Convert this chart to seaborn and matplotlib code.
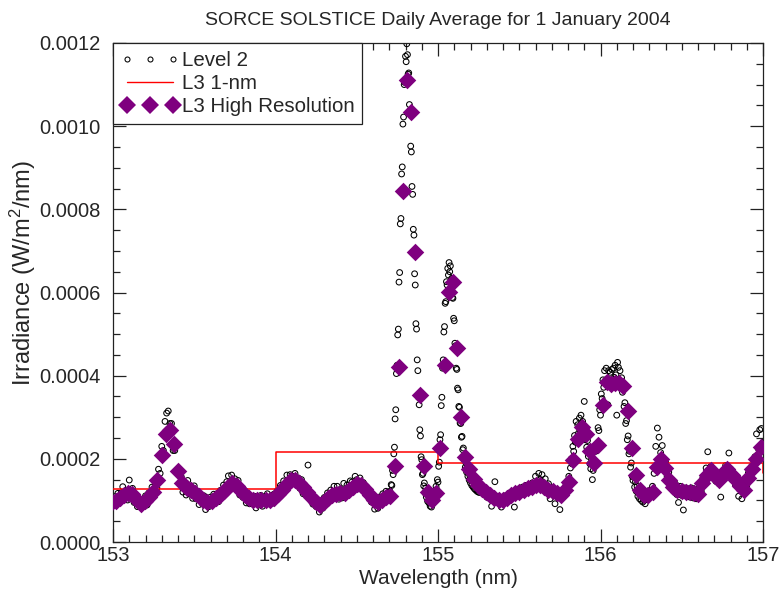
import numpy as np
import matplotlib
matplotlib.use("Agg")
import matplotlib.pyplot as plt
from matplotlib.lines import Line2D
from matplotlib.ticker import MultipleLocator, FormatStrFormatter
import seaborn as sns

# ---------------- data (irradiance in units of 1e-6 W/m^2/nm) ----------------
# Level 2 samples, split into segments with their own start / step (nm)
l2_a_start, l2_a_step = 153.00, 0.01
l2_a = [88, 109, 93, 117, 96, 118, 133, 103, 122, 101,
        149, 109, 129, 95, 110, 85, 103, 85, 102, 86,
        111, 89, 118, 106, 132, 112, 144, 130, 175, 165,
        230, 220, 290, 310, 315, 285, 285, 220, 220, 170,
        175, 140, 157, 120, 140, 113, 148, 117, 133, 105,
        135, 104, 117, 90, 114, 92, 111, 78, 102, 85,
        108, 95, 115, 96, 116, 97, 124, 112, 137, 118,
        145, 159, 143, 161, 130, 152, 126, 148, 113, 130,
        107, 124, 94, 114, 92, 108, 91, 110, 82, 105,
        92, 112, 86, 108, 94, 116, 92, 109, 93, 115,
        102, 123, 111, 136, 115, 147, 128, 161, 148, 162,
        159, 141, 165, 140, 154, 129, 150, 116, 135, 112,
        185, 104, 117, 91, 105, 85, 99, 72, 96, 81,
        107, 93, 118, 98, 125, 107, 134, 105, 134, 103,
        127, 106, 141, 113, 137, 116, 147, 144, 127, 158,
        150, 128, 154, 132, 143, 118, 131, 108, 119, 96,
        111, 79, 102, 81, 108, 93, 116, 97, 122, 103]

l2_b_start, l2_b_step = 154.700, 0.004
l2_b = [104, 122, 112, 138, 136, 172, 162, 212, 228, 296,
        318, 405, 425, 498, 512, 625, 648, 765, 778, 885,
        902, 1005, 1022, 1100, 1105, 1168, 1155, 1198, 1172, 1125,
        1128, 1052, 1038, 952, 938, 855, 836, 752, 738, 645,
        618, 525, 512, 438, 412, 348, 330, 270, 255, 205,
        198, 162, 165, 135, 142, 118, 130, 108, 121, 98,
        113, 94, 108, 86, 104, 84, 106, 92, 112, 98,
        120, 110, 134, 126, 150, 144, 182, 192, 246, 258,
        328, 348, 418, 438, 505, 518, 574, 578, 626, 618,
        658, 642, 672, 650, 664, 628, 634, 588, 586, 538,
        532, 478, 472, 418, 415, 370, 366, 326, 324, 286,
        285, 252, 254, 222, 226, 198, 204, 180, 190, 168,
        178, 158, 168, 149, 160, 142, 154, 136, 148, 132,
        145, 128, 140, 125, 137, 122, 134, 120, 132, 119]

l2_c_start, l2_c_step = 155.26, 0.01
l2_c = [126, 136, 115, 128, 108, 122, 104, 86, 116, 145,
        98, 110, 92, 84, 106, 94, 112, 98, 118, 104,
        120, 84, 124, 112, 128, 114, 132, 118, 136, 122,
        138, 124, 142, 128, 158, 130, 165, 150, 162, 124,
        152, 120, 140, 104, 130, 112, 92, 124, 106, 78,
        120, 108]

l2_d_start, l2_d_step = 155.780, 0.005
l2_d = [115, 134, 124, 146, 132, 158, 145, 178, 200, 188,
        230, 218, 256, 240, 290, 252, 282, 262, 298, 268,
        305, 265, 290, 258, 338, 246, 262, 228, 244, 206,
        222, 188, 176, 198, 150, 172, 195, 182, 218, 232,
        228, 275, 268, 318, 305, 356, 345, 390, 372, 412,
        388, 418, 392, 330, 412, 386, 408, 385, 415, 392,
        418, 396, 425, 402, 305, 432, 420, 388, 412, 378,
        395, 360, 372, 326, 335, 285, 292, 246, 255, 212,
        218, 180, 190, 158, 148, 156, 132, 145, 122, 134,
        110, 128, 104, 122, 100, 118, 96, 114, 100, 92,
        116, 102, 120, 104, 124]

l2_e_start, l2_e_step = 156.31, 0.01
l2_e = [110, 134, 165, 230, 274, 252, 215, 232, 178, 192,
        158, 168, 136, 150, 122, 140, 114, 95, 134, 112,
        77, 130, 110, 128, 108, 130, 106, 126, 104, 106,
        132, 122, 155, 148, 178, 217, 162, 182, 155, 168,
        146, 160, 140, 108, 170, 156, 184, 165, 214, 176,
        150, 162, 138, 152, 110, 142, 104, 136, 120, 136,
        166, 156, 182, 170, 205, 260, 225, 270, 273, 240]

# L3 1-nm binned spectrum (bin start wavelength, value)
l3_1nm_wl = [153, 154, 155, 156, 157]
l3_1nm = [127, 216, 189, 189, 165]

# L3 high resolution spectrum
l3hr_start, l3hr_step = 152.992, 0.0256
l3hr = [95, 98, 106, 114, 119, 115, 102, 91, 98, 108,
        120, 150, 210, 260, 270, 235, 170, 142, 130, 124,
        117, 110, 100, 96, 99, 106, 113, 122, 133, 142,
        135, 123, 112, 105, 101, 100, 100, 100, 102, 106,
        115, 125, 137, 148, 148, 141, 132, 120, 108, 97,
        88, 95, 105, 112, 115, 117, 119, 125, 133, 140,
        138, 127, 113, 102, 95, 102, 108, 110, 183, 422,
        843, 1111, 1033, 697, 354, 183, 121, 101, 117, 225,
        426, 602, 626, 467, 301, 205, 175, 152, 138, 128,
        120, 113, 107, 102, 100, 106, 112, 117, 120, 125,
        129, 132, 136, 137, 132, 126, 122, 117, 113, 125,
        145, 197, 247, 277, 260, 220, 189, 233, 330, 385,
        380, 382, 382, 376, 315, 225, 160, 125, 112, 112,
        120, 180, 200, 178, 150, 133, 125, 122, 121, 120,
        117, 115, 142, 162, 172, 158, 150, 160, 175, 160,
        148, 135, 126, 155, 175, 200, 229]

title = "SORCE SOLSTICE Daily Average for 1 January 2004"
xlabel = "Wavelength (nm)"
ylabel = "Irradiance (W/m$^2$/nm)"
legend_labels = ["Level 2", "L3 1-nm", "L3 High Resolution"]
x_ticks = [153, 154, 155, 156, 157]
y_ticks = [0.0, 0.0002, 0.0004, 0.0006, 0.0008, 0.0010, 0.0012]

UNIT = 1e-6


def seg(start, step, vals):
    return start + step * np.arange(len(vals)), np.array(vals, float) * UNIT


segs = [seg(l2_a_start, l2_a_step, l2_a), seg(l2_b_start, l2_b_step, l2_b),
        seg(l2_c_start, l2_c_step, l2_c), seg(l2_d_start, l2_d_step, l2_d),
        seg(l2_e_start, l2_e_step, l2_e)]
l2_x = np.concatenate([s[0] for s in segs])
l2_y = np.concatenate([s[1] for s in segs])
hr_x, hr_y = seg(l3hr_start, l3hr_step, l3hr)
nm_x = np.array(l3_1nm_wl, float)
nm_y = np.array(l3_1nm, float) * UNIT

# ---------------- style ----------------
sns.set_style("ticks")
plt.rcParams["font.family"] = ["Liberation Sans", "DejaVu Sans"]
plt.rcParams["mathtext.fontset"] = "custom"
plt.rcParams["mathtext.rm"] = "Liberation Sans"
plt.rcParams["mathtext.it"] = "Liberation Sans"

PURPLE = "#7f007f"

fig = plt.figure(figsize=(7.79, 5.90), dpi=100)
ax = fig.add_axes([113 / 779, 48 / 590, 650 / 779, 499 / 590])

sns.scatterplot(x=l2_x, y=l2_y, ax=ax, marker="o", s=17, linewidth=0.75,
                edgecolor="black", legend=False, zorder=2)
for coll in ax.collections:
    coll.set_facecolor("none")
    coll.set_edgecolor("black")

sns.lineplot(x=nm_x, y=nm_y, ax=ax, color="red", linewidth=1.1,
             drawstyle="steps-post", legend=False, zorder=3)

sns.scatterplot(x=hr_x, y=hr_y, ax=ax, marker="D", s=80, color=PURPLE,
                linewidth=0, legend=False, zorder=4)

ax.set_xlim(153, 157)
ax.set_ylim(0, 0.0012)
ax.set_xticks(x_ticks)
ax.set_yticks(y_ticks)
ax.xaxis.set_minor_locator(MultipleLocator(0.1))
ax.yaxis.set_minor_locator(MultipleLocator(0.00005))
ax.yaxis.set_major_formatter(FormatStrFormatter("%.4f"))
ax.xaxis.set_major_formatter(FormatStrFormatter("%d"))

ax.tick_params(which="both", direction="in", top=True, right=True,
               color="#222222", width=0.9)
ax.tick_params(which="major", length=9.5, labelsize=14.5)
ax.tick_params(axis="y", which="major", pad=9)
ax.tick_params(axis="x", which="major", pad=3)
ax.tick_params(which="minor", length=5)
for sp in ax.spines.values():
    sp.set_visible(True)
    sp.set_linewidth(0.9)
    sp.set_color("#222222")

ax.set_title(title, fontsize=14, pad=13)
ax.set_xlabel(xlabel, fontsize=15)
ax.xaxis.set_label_coords(0.5, -0.0735)
ax.xaxis.label.set_va("center")
ax.set_ylabel(ylabel, fontsize=17)
ax.yaxis.set_label_coords(-0.139, 0.54)
ax.yaxis.label.set_va("center")

handles = [
    Line2D([], [], ls="none", marker="o", ms=3.6, mfc="none", mec="black", mew=0.75),
    Line2D([], [], color="red", lw=1.0),
    Line2D([], [], ls="none", marker="D", ms=9.5, mfc=PURPLE, mec=PURPLE, mew=0),
]
leg = ax.legend(handles, legend_labels, loc="upper left", bbox_to_anchor=(0, 1),
                borderaxespad=0, numpoints=3, fontsize=14.8, frameon=True,
                fancybox=False, edgecolor="#222222", framealpha=1,
                handlelength=2.85, handletextpad=0.12, borderpad=0.38,
                labelspacing=0.2)
leg.get_frame().set_linewidth(0.9)
leg.set_zorder(10)

fig.savefig("out.png", dpi=100, facecolor="white")
